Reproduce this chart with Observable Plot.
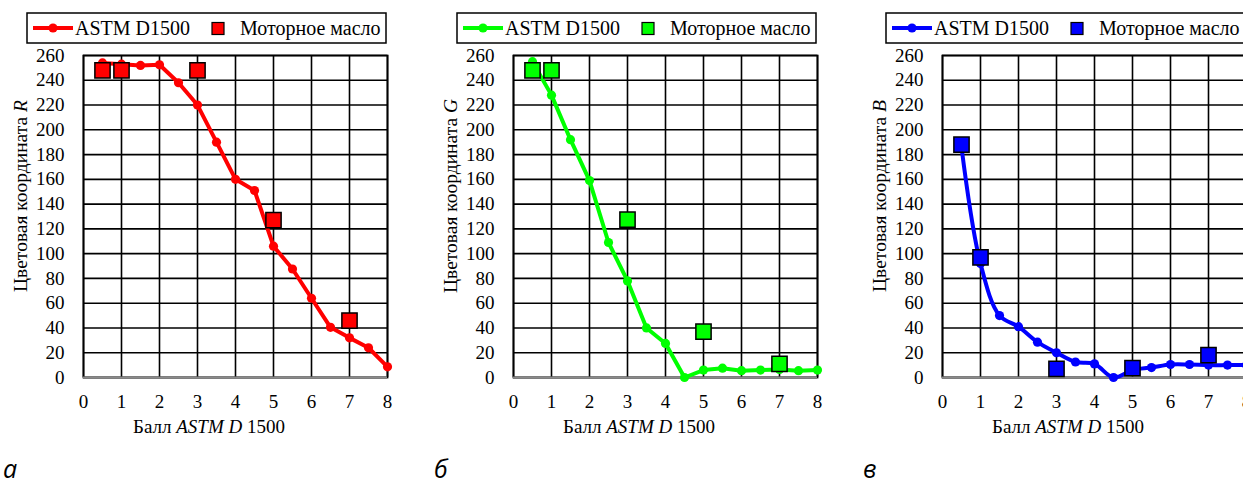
<!DOCTYPE html>
<html>
<head>
<meta charset="utf-8">
<script src="https://cdn.jsdelivr.net/npm/d3@7"></script>
<script src="https://cdn.jsdelivr.net/npm/@observablehq/plot@0.6"></script>
<style>
  html, body { margin: 0; padding: 0; background: #fff; }
  body { width: 1243px; height: 484px; overflow: hidden; position: relative; }
  .panel { position: absolute; top: 45px; }
  #overlay { position: absolute; left: 0; top: 0; pointer-events: none; }
</style>
</head>
<body>
<div id="root"></div>
<script>
// ---- data ----
const scoreX = [0.5, 1, 1.5, 2, 2.5, 3, 3.5, 4, 4.5, 5, 5.5, 6, 6.5, 7, 7.5, 8];
const astmR = [254, 253, 252, 252.5, 238, 220, 190, 160, 151, 106, 87.6, 64, 40.5, 32, 24, 8.6];
const astmG = [255, 228, 192, 159, 109, 78, 40, 27.5, 0, 6, 7.5, 5.5, 6, 6.5, 5.5, 6];
const astmB = [186, 92, 50, 41, 28.5, 20, 12.5, 11, 0, 6, 8, 10.5, 10.5, 10, 10, 10];
const oilX = [0.5, 1, 3, 5, 7];
const oilR = [248, 248, 248, 127, 46];
const oilG = [248, 248, 127.5, 37, 11];
const oilB = [188, 97, 7, 7.5, 18];
const xTicks = [0, 1, 2, 3, 4, 5, 6, 7, 8];
const yTicks = [0, 20, 40, 60, 80, 100, 120, 140, 160, 180, 200, 220, 240, 260];
const seriesNames = ["ASTM D1500", "Моторное масло"];
const axisLetters = ["R", "G", "B"];
const panelTags = ["а", "б", "в"];
const colors = ["#ff0000", "#00ff00", "#0000ff"];
const lineData = [astmR, astmG, astmB];
const oilData = [oilR, oilG, oilB];
const curves = ["linear", "linear", "catmull-rom"];
const panelLeft = [0, 430, 859];

// pick an installed Times-like serif font
function pickFont(cands) {
  const ctx = document.createElement("canvas").getContext("2d");
  const probe = "Цветовая ASTM 0123456789 Моторное";
  for (const f of cands) {
    for (const base of ["monospace", "sans-serif"]) {
      ctx.font = `40px ${base}`;
      const w0 = ctx.measureText(probe).width;
      ctx.font = `40px "${f}", ${base}`;
      const w1 = ctx.measureText(probe).width;
      if (Math.abs(w1 - w0) > 0.5) return `"${f}"`;
    }
  }
  return "serif";
}
const serifName = pickFont(["Liberation Serif", "Tinos", "Times New Roman", "Times", "Nimbus Roman", "Nimbus Roman No9 L", "FreeSerif", "DejaVu Serif", "Noto Serif"]);
const serif = serifName + ", serif";

const root = document.getElementById("root");

panelLeft.forEach((left, i) => {
  const line = scoreX.map((x, j) => ({x, y: lineData[i][j]}));
  const oil = oilX.map((x, j) => ({x, y: oilData[i][j]}));
  const chart = Plot.plot({
    width: 400,
    height: 400,
    marginLeft: 83,
    marginRight: 13,
    marginTop: 10,
    marginBottom: 68,
    style: {fontFamily: serif, fontSize: "19px", color: "#000", background: "transparent", overflow: "visible"},
    x: {domain: [0, 8]},
    y: {domain: [0, 260]},
    marks: [
      Plot.gridX(xTicks, {stroke: "#000", strokeOpacity: 1, strokeWidth: 1.6}),
      Plot.gridY(yTicks, {stroke: "#000", strokeOpacity: 1, strokeWidth: 1.6}),
      Plot.frame({stroke: "#000", strokeWidth: 1.8}),
      Plot.ruleY([0], {stroke: "#8a8a8a", strokeWidth: 2.2}),
      Plot.axisX({ticks: xTicks, tickSize: 0, tickPadding: 17, label: null, tickFormat: d => String(d), fontSize: 19}),
      Plot.axisY({ticks: yTicks, tickSize: 0, tickPadding: 19, label: null, tickFormat: d => String(d), fontSize: 19}),
      Plot.line(line, {x: "x", y: "y", stroke: colors[i], strokeWidth: 4, curve: curves[i]}),
      Plot.dot(line, {x: "x", y: "y", r: 4.6, fill: colors[i], stroke: "none"}),
      Plot.dot(oil, {x: "x", y: "y", symbol: "square", r: 8.6, fill: colors[i], stroke: "#000", strokeWidth: 1.5})
    ]
  });
  chart.classList.add("panel");
  chart.style.left = left + "px";
  root.appendChild(chart);
});

// ---- overlay text: legends, axis titles, panel tags ----
const ns = "http://www.w3.org/2000/svg";
const ov = document.createElementNS(ns, "svg");
ov.setAttribute("id", "overlay");
ov.setAttribute("width", 1243);
ov.setAttribute("height", 484);
root.appendChild(ov);
function el(tag, attrs, parent) {
  const e = document.createElementNS(ns, tag);
  for (const k in attrs) e.setAttribute(k, attrs[k]);
  (parent || ov).appendChild(e);
  return e;
}
function tspan(parent, text, italic) {
  const t = el("tspan", italic ? {"font-style": "italic"} : {}, parent);
  t.textContent = text;
  return t;
}

panelLeft.forEach((left, i) => {
  const c = colors[i];
  // legend
  const lx = left + 27;
  const clipId = "clip" + i;
  const cp = el("clipPath", {id: clipId});
  el("rect", {x: lx, y: 13, width: 359, height: 30}, cp);
  el("rect", {x: lx, y: 13, width: 359, height: 30, fill: "#fff", stroke: "#000", "stroke-width": 1.5});
  const g = el("g", {"clip-path": `url(#${clipId})`});
  el("line", {x1: lx + 6, x2: lx + 46, y1: 28, y2: 28, stroke: c, "stroke-width": 4}, g);
  el("circle", {cx: lx + 26, cy: 28, r: 4.6, fill: c}, g);
  const t1 = el("text", {x: lx + 48, y: 35, "font-family": serif, "font-size": 20, fill: "#000"}, g);
  t1.textContent = seriesNames[0];
  el("rect", {x: lx + 185, y: 22.5, width: 12, height: 12, fill: c, stroke: "#000", "stroke-width": 1.2}, g);
  const t2 = el("text", {x: lx + 213, y: 35, "font-family": serif, "font-size": 20, fill: "#000"}, g);
  t2.textContent = seriesNames[1];

  // y title
  const yt = el("text", {
    transform: `translate(${left + 27},196) rotate(-90)`,
    "text-anchor": "middle", "font-family": serif, "font-size": 19.5, fill: "#000"
  });
  tspan(yt, "Цветовая координата ", false);
  tspan(yt, axisLetters[i], true);

  // x title
  const xt = el("text", {
    x: left + 209, y: 433, "text-anchor": "middle",
    "font-family": serif, "font-size": 19, fill: "#000"
  });
  tspan(xt, "Балл ", false);
  tspan(xt, "ASTM D", true);
  tspan(xt, " 1500", false);

  // panel tag
  const pt = el("text", {
    x: left + (i === 0 ? 3 : 4), y: 478,
    "font-family": "'Open Sans', sans-serif", "font-style": "italic",
    "font-size": 25, fill: "#000"
  });
  pt.textContent = panelTags[i];
});
</script>
</body>
</html>
